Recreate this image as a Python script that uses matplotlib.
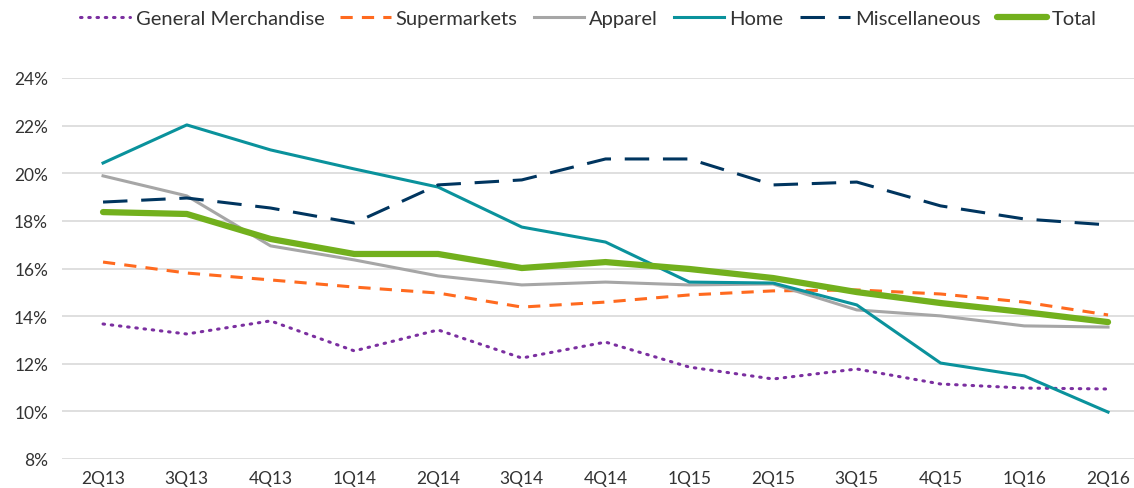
import matplotlib
matplotlib.use("Agg")
import matplotlib.pyplot as plt
from matplotlib.ticker import FuncFormatter

quarters = ["2Q13", "3Q13", "4Q13", "1Q14", "2Q14", "3Q14", "4Q14",
            "1Q15", "2Q15", "3Q15", "4Q15", "1Q16", "2Q16"]
general_merch = [13.67, 13.25, 13.80, 12.54, 13.42, 12.24, 12.91, 11.86, 11.36, 11.78, 11.15, 10.98, 10.94]
supermarkets = [16.27, 15.81, 15.52, 15.22, 14.97, 14.38, 14.59, 14.89, 15.06, 15.10, 14.93, 14.59, 14.05]
apparel = [19.89, 19.05, 16.95, 16.36, 15.69, 15.31, 15.43, 15.31, 15.35, 14.26, 14.01, 13.59, 13.54]
home = [20.43, 22.03, 20.98, 20.18, 19.42, 17.74, 17.11, 15.43, 15.39, 14.47, 12.03, 11.49, 9.97]
misc = [18.79, 18.96, 18.54, 17.91, 19.51, 19.72, 20.60, 20.60, 19.51, 19.63, 18.63, 18.08, 17.83]
total = [18.37, 18.29, 17.24, 16.61, 16.61, 16.02, 16.27, 15.98, 15.60, 15.01, 14.55, 14.17, 13.75]
y_ticks = [8, 10, 12, 14, 16, 18, 20, 22, 24]

plt.rcParams['font.family'] = ['Lato', 'DejaVu Sans']

fig = plt.figure(figsize=(11.34, 4.89), dpi=100)
ax = fig.add_axes([62/1134, 1 - 460/489, 1 - 62/1134, (460 - 79)/489])

x = list(range(len(quarters)))
ax.plot(x, general_merch, color="#7B2FA0", lw=2.2, linestyle=(0, (0.5, 2.2)), dash_capstyle="round", label="General Merchandise")
ax.plot(x, supermarkets, color="#FF6A1F", lw=2.2, linestyle=(0, (4, 3)), label="Supermarkets")
ax.plot(x, apparel, color="#A6A6A6", lw=2.2, label="Apparel")
ax.plot(x, home, color="#0A929C", lw=2.2, label="Home")
ax.plot(x, misc, color="#00355F", lw=2.2, linestyle=(0, (8, 4.5)), label="Miscellaneous")
ax.plot(x, total, color="#72B01D", lw=4.5, solid_capstyle="round", label="Total")

ax.set_xlim(-0.49, 12.31)
ax.set_ylim(8, 24)
ax.set_yticks(y_ticks)
ax.yaxis.set_major_formatter(FuncFormatter(lambda v, p: f"{v:.0f}%"))
ax.set_xticks(x)
ax.set_xticklabels(quarters)
ax.grid(axis="y", color="#D9D9D9", lw=1.2)
ax.set_axisbelow(True)
for s in ax.spines.values():
    s.set_visible(False)
ax.tick_params(axis="both", length=0, labelsize=12.5, colors="#333333")
ax.tick_params(axis="x", pad=8)
ax.tick_params(axis="y", pad=10)

fig.legend(loc="upper center", bbox_to_anchor=(0.519, 1.015), ncol=6, frameon=False,
           fontsize=14.5, handlelength=2.5, handletextpad=0.25, columnspacing=0.8, labelcolor="#333333")

fig.savefig("out.png", dpi=100)
